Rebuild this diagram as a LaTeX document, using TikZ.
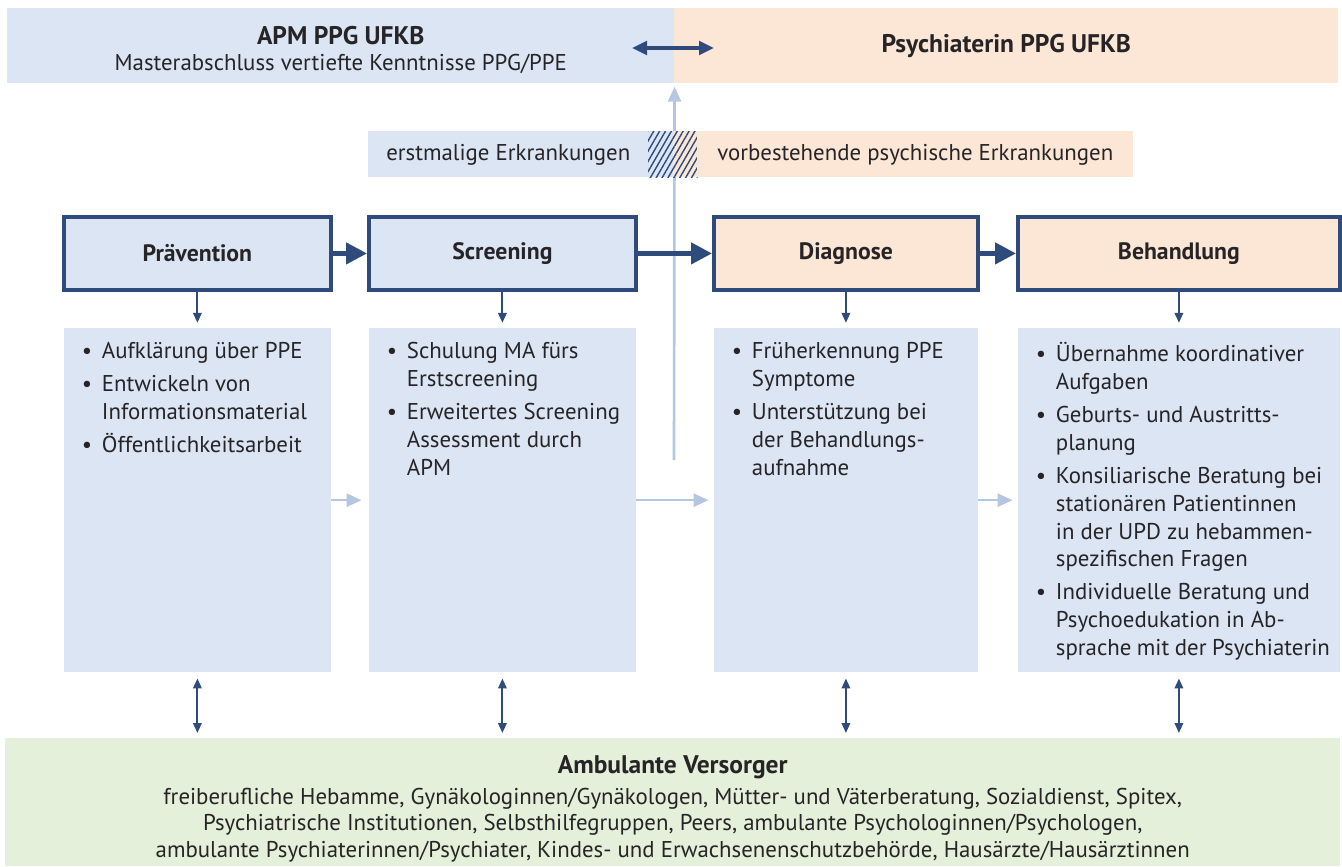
\documentclass[tikz,border=0pt]{standalone}
\usepackage{fontspec}
\setmainfont{PT Sans}
\usepackage{tikz}
\usepackage{xcolor}
\usetikzlibrary{
  arrows.meta, positioning, patterns.meta, backgrounds
}
\definecolor{apmblue}{HTML}{DCE5F3}
\definecolor{psyorange}{HTML}{FCE6D5}
\definecolor{ambgreen}{HTML}{E5F0DB}
\definecolor{darkblue}{HTML}{2F4B7C}
\definecolor{lightarrow}{HTML}{B5C6E1}
\definecolor{textdark}{HTML}{262426}
\newcommand{\bul}[1]{\hangindent=0.56cm\hangafter=1\rightskip=0pt plus 1fil\relax
  \noindent\hspace*{0.16cm}\makebox[0.4cm][l]{\textbullet}#1\par\vskip 2.7pt}
\tikzset{
  % Flat colour bands
  band/.style={
    fill=#1, anchor=north west, inner sep=0pt, text=textdark,
  },
  % Phase header boxes
  phase/.style={
    draw=darkblue, fill=#1, anchor=north west,
    minimum height=1.46cm, line width=2.2pt,
    font=\fontsize{13.5}{16}\selectfont\bfseries, text=textdark,
  },
  % Task lists below the phases
  infobox/.style={
    fill=apmblue, anchor=north, align=left,
    inner xsep=0.2cm, inner ysep=0.28cm,
    minimum height=6.88cm, text=textdark,
  },
  % Arrows
  bigarr/.style={-{Triangle[length=0.42cm, width=0.42cm]},
                 line width=2.6pt, darkblue},
  thinarr/.style={-{Triangle[length=0.2cm, width=0.17cm]},
                  line width=1.1pt, darkblue},
  twoarr/.style={{Triangle[length=0.2cm, width=0.17cm]}-{Triangle[length=0.2cm, width=0.17cm]},
                 line width=1.1pt, darkblue},
  toparr/.style={{Triangle[length=0.3cm, width=0.27cm]}-{Triangle[length=0.3cm, width=0.27cm]},
                 line width=2.2pt, darkblue},
  lightarr/.style={-{Triangle[length=0.3cm, width=0.26cm]},
                   line width=1.5pt, lightarrow},
}

\begin{document}
\begin{tikzpicture}[x=0.02cm, y=-0.02cm,
    font=\fontsize{13}{15.9}\selectfont]
  \useasboundingbox (0,0) rectangle (1342,866);

  % roles
  \node[band=apmblue, minimum width=13.34cm, minimum height=1.5cm] (apm) at (7,8) {};
  \node[align=center, text=textdark, yshift=-0.08cm] (apmtext) at (apm.center)
    {{\fontsize{14.5}{17}\selectfont\bfseries APM PPG UFKB}\\[-1pt]
     Masterabschluss vertiefte Kenntnisse PPG/PPE};
  \node[band=psyorange, minimum width=13.28cm, minimum height=1.5cm] (psy) at (674,8)
    {\fontsize{14.5}{17}\selectfont\bfseries Psychiaterin PPG UFKB};
  \coordinate (linkL) at (632,48);
  \coordinate (linkR) at (714,48);
  \draw[toparr] (linkL) -- (linkR);

  % kind of illness
  \node[band=apmblue, minimum width=5.6cm, minimum height=0.92cm] (first) at (368,131)
    {erstmalige Erkrankungen};
  \node[band=apmblue, minimum width=0.5cm, minimum height=0.92cm] (hatchL) at (648,131) {};
  \node[band=psyorange, minimum width=0.48cm, minimum height=0.92cm] (hatchR) at (673,131) {};
  \fill[pattern={Lines[angle=60, distance=2.9pt, line width=0.8pt]}, pattern color=darkblue]
    (hatchL.north west) rectangle (hatchR.south east);
  \node[band=psyorange, minimum width=8.72cm, minimum height=0.92cm] (prior) at (697,131)
    {vorbestehende psychische Erkrankungen};

  % phases
  \node[phase=apmblue, minimum width=5.34cm] (prev) at (62,215) {Prävention};
  \node[phase=apmblue, minimum width=5.34cm] (scr) at (367,215) {Screening};
  \node[phase=psyorange, minimum width=5.28cm] (diag) at (712,215) {Diagnose};
  \node[phase=psyorange, minimum width=6.44cm] (beh) at (1016,215) {Behandlung};
  \draw[bigarr] (prev) -- (scr);
  \draw[bigarr] (scr) -- (diag);
  \draw[bigarr] (diag) -- (beh);

  % tasks
  \node[infobox, below=0.72cm of prev] (previnfo) {%
    \parbox[t][6.3cm][t]{4.94cm}{\hyphenpenalty=10000
      \bul{Aufklärung über PPE}
      \bul{Entwickeln von\\Informationsmaterial}
      \bul{Öffentlichkeitsarbeit}}};
  \node[infobox, below=0.72cm of scr] (scrinfo) {%
    \parbox[t][6.3cm][t]{4.94cm}{\hyphenpenalty=10000
      \bul{Schulung MA fürs\\Erstscreening}
      \bul{Erweitertes Screening\\Assessment durch\\APM}}};
  \node[infobox, below=0.72cm of diag] (diaginfo) {%
    \parbox[t][6.3cm][t]{4.88cm}{\hyphenpenalty=10000
      \bul{Früherkennung PPE\\Symptome}
      \bul{Unterstützung bei\\der Behandlungs-\\aufnahme}}};
  \node[infobox, below=0.72cm of beh] (behinfo) {%
    \parbox[t][6.3cm][t]{6.04cm}{\hyphenpenalty=10000
      \bul{Übernahme koordinativer\\Aufgaben}
      \bul{Geburts- und Austritts-\\planung}
      \bul{Konsiliarische Beratung bei\\stationären Patientinnen\\in der UPD zu hebammen-\\spezifischen Fragen}
      \bul{Individuelle Beratung und\\Psychoedukation in Ab-\\sprache mit der Psychiaterin}}};
  \draw[thinarr, shorten >=0.1cm] (prev) -- (previnfo);
  \draw[thinarr, shorten >=0.1cm] (scr) -- (scrinfo);
  \draw[thinarr, shorten >=0.1cm] (diag) -- (diaginfo);
  \draw[thinarr, shorten >=0.1cm] (beh) -- (behinfo);
  \draw[lightarr, shorten >=0.14cm] (previnfo) -- (scrinfo);
  \draw[lightarr, shorten >=0.1cm] (scrinfo) -- (diaginfo);
  \draw[lightarr, shorten >=0.1cm] (diaginfo) -- (behinfo);

  % outpatient network
  \node[band=ambgreen, minimum width=26.7cm, minimum height=2.56cm] (amb) at (5,738) {};
  \node[anchor=north, align=center, inner sep=0pt, text=textdark, below=0.34cm of amb.north] (ambtext)
    {{\fontsize{14.5}{17}\selectfont\bfseries Ambulante Versorger}\\[2pt]
     freiberufliche Hebamme, Gynäkologinnen/Gynäkologen, Mütter- und Väterberatung, Sozialdienst, Spitex,\\[-1pt]
     Psychiatrische Institutionen, Selbsthilfegruppen, Peers, ambulante Psychologinnen/Psychologen,\\[-1pt]
     ambulante Psychiaterinnen/Psychiater, Kindes- und Erwachsenenschutzbehörde, Hausärzte/Hausärztinnen};
  \foreach \taskbox in {previnfo, scrinfo, diaginfo, behinfo}
    \draw[twoarr, shorten <=0.12cm, shorten >=0.1cm] (\taskbox.south) -- (\taskbox.south |- amb.north);

  % escalation line behind everything
  \begin{scope}[on background layer]
    \coordinate (rise) at (674,460);
    \draw[lightarr, shorten >=0.06cm] (rise) -- (apm.south east);
  \end{scope}
\end{tikzpicture}
\end{document}
